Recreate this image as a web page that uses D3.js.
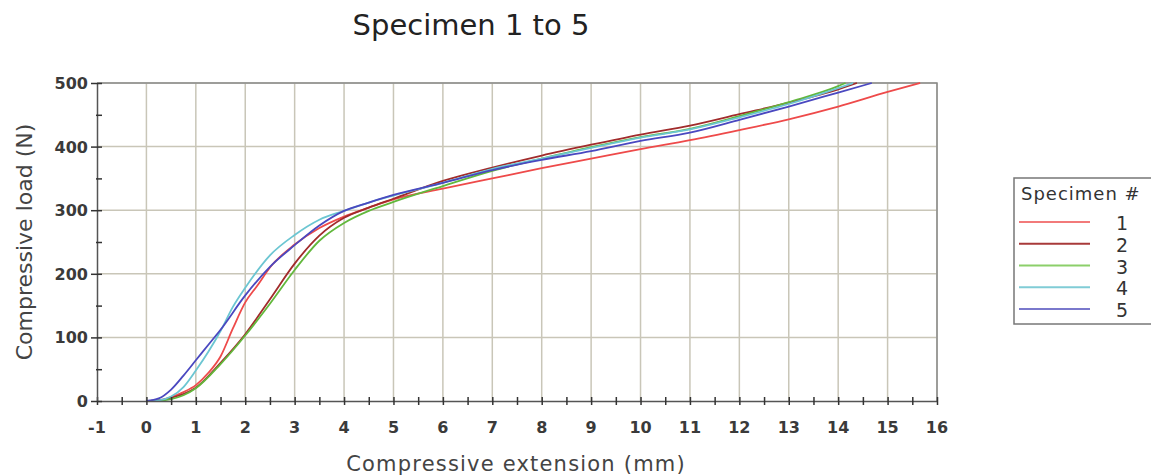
<!DOCTYPE html>
<html>
<head>
<meta charset="utf-8">
<script src="https://cdn.jsdelivr.net/npm/d3@7"></script>
<style>
  body { margin: 0; background: #fff; }
  svg { display: block; font-family: "DejaVu Sans", Verdana, sans-serif; }
</style>
</head>
<body>
<svg id="chart" width="1151" height="475"></svg>
<script>
// extension (mm) and load (N), one pair per specimen
const ext1 = [0, 0.25, 0.5, 0.75, 1, 1.25, 1.5, 1.75, 2, 2.25, 2.5, 3, 3.5, 4, 4.5, 5, 6, 7, 8, 9, 10, 11, 12, 13, 14, 15, 15.66];
const load1 = [0, 1, 6, 14, 25, 44, 70, 114, 155, 182, 210, 246, 272, 290, 304, 317, 334, 350, 366, 381, 396, 410, 426, 443, 463, 486, 500];

const ext2 = [0, 0.25, 0.5, 0.75, 1, 1.5, 2, 2.5, 3, 3.5, 4, 4.5, 5, 6, 7, 8, 9, 10, 11, 12, 13, 14, 14.38];
const load2 = [0, 1, 5, 11, 21, 60, 105, 160, 216, 260, 288, 304, 318, 346, 367, 386, 403, 419, 433, 451, 469, 490, 500];

const ext3 = [0, 0.25, 0.5, 0.75, 1, 1.5, 2, 2.5, 3, 3.5, 4, 4.5, 5, 6, 7, 8, 9, 10, 11, 12, 13, 14, 14.15];
const load3 = [0, 0.5, 3, 9, 20, 58, 103, 153, 206, 252, 280, 299, 313, 338, 362, 381, 399, 415, 428, 448, 470, 495, 500];

const ext4 = [0, 0.25, 0.5, 0.75, 1, 1.25, 1.5, 1.75, 2, 2.5, 3, 3.5, 4, 4.5, 5, 6, 7, 8, 9, 10, 11, 12, 13, 14, 14.3];
const load4 = [0, 1, 7, 22, 48, 77, 110, 148, 178, 229, 261, 285, 299, 312, 323, 343, 365, 381, 398, 414, 427, 446, 467, 492, 500];

const ext5 = [0, 0.25, 0.5, 0.75, 1, 1.25, 1.5, 2, 2.5, 3, 3.5, 4, 4.5, 5, 6, 7, 8, 9, 10, 11, 12, 13, 14, 14.68];
const load5 = [0, 4, 18, 40, 64, 88, 112, 166, 211, 245, 276, 299, 312, 324, 343, 363, 379, 393, 409, 422, 442, 463, 485, 500];

const specimens = ["1", "2", "3", "4", "5"];
const colors = ["#ee4a4a", "#a12b2b", "#62b83c", "#6cc6d2", "#4a48c0"];
const legendColors = ["#f27a7a", "#a83a3a", "#8ccf6a", "#80ccd6", "#7a78cc"];
const xTicks = d3.range(-1, 17);
const yTicks = [0, 100, 200, 300, 400, 500];

const series = [
  [ext1, load1], [ext2, load2], [ext3, load3], [ext4, load4], [ext5, load5]
].map(([e, l], i) => ({ name: specimens[i], color: colors[i], pts: e.map((v, j) => [v, l[j]]) }));

const svg = d3.select("#chart");
const plotLeft = 97, plotRight = 937, plotTop = 83, plotBottom = 401;

const x = d3.scaleLinear().domain([-1, 16]).range([plotLeft, plotRight]);
const y = d3.scaleLinear().domain([0, 500]).range([plotBottom, plotTop]);

// grid
const grid = svg.append("g").attr("stroke", "#c9c6b8").attr("stroke-width", 1.5);
grid.selectAll(".vx").data(xTicks.slice(1)).join("line")
  .attr("x1", (d) => x(d)).attr("x2", (d) => x(d))
  .attr("y1", plotTop).attr("y2", plotBottom);
grid.selectAll(".hy").data(yTicks.slice(1)).join("line")
  .attr("x1", plotLeft).attr("x2", plotRight)
  .attr("y1", (d) => y(d)).attr("y2", (d) => y(d));

// frame top / right
svg.append("path")
  .attr("d", `M${plotLeft},${plotTop}H${plotRight}V${plotBottom}`)
  .attr("fill", "none").attr("stroke", "#8a8a8a").attr("stroke-width", 1.5);

// curves
const line = d3.line()
  .x((d) => x(d[0]))
  .y((d) => y(d[1]))
  .curve(d3.curveMonotoneX);

svg.append("g").selectAll("path").data(series).join("path")
  .attr("d", (d) => line(d.pts))
  .attr("fill", "none")
  .attr("stroke", (d) => d.color)
  .attr("stroke-width", 1.8);

// x axis
const xAxis = svg.append("g").attr("transform", `translate(0,${plotBottom})`)
  .call(d3.axisBottom(x).tickValues(d3.range(-1, 16.01, 0.5)).tickSize(0).tickFormat(""));
xAxis.select(".domain").attr("stroke", "#555").attr("stroke-width", 1.5);
xAxis.selectAll(".tick").append("line")
  .attr("y1", -4).attr("y2", 4).attr("stroke", "#333").attr("stroke-width", 1.5);
svg.append("g").selectAll("text").data(xTicks).join("text")
  .attr("x", (d) => x(d)).attr("y", 433)
  .attr("text-anchor", "middle")
  .attr("font-size", 16).attr("font-weight", "bold").attr("fill", "#3a3a3a")
  .text((d) => d);

// y axis
const yAxis = svg.append("g").attr("transform", `translate(${plotLeft},0)`)
  .call(d3.axisLeft(y).tickValues(d3.range(0, 501, 50)).tickSize(0).tickFormat(""));
yAxis.select(".domain").attr("stroke", "#555").attr("stroke-width", 1.5);
yAxis.selectAll(".tick").append("line")
  .attr("x1", (d) => (d % 100 === 0 ? -6 : -1)).attr("x2", 5)
  .attr("stroke", "#333").attr("stroke-width", 1.5);
svg.append("g").selectAll("text").data(yTicks).join("text")
  .attr("x", 88).attr("y", (d) => y(d) + 6)
  .attr("text-anchor", "end")
  .attr("font-size", 16).attr("font-weight", "bold").attr("fill", "#3a3a3a")
  .text((d) => d);

// titles
svg.append("text").attr("x", 471).attr("y", 35).attr("text-anchor", "middle")
  .attr("font-size", 29).attr("fill", "#222").text("Specimen 1 to 5");
svg.append("text").attr("x", 516).attr("y", 471).attr("text-anchor", "middle")
  .attr("font-size", 21).attr("fill", "#444").attr("letter-spacing", 1.2)
  .text("Compressive extension (mm)");
svg.append("text").attr("transform", "translate(32,242) rotate(-90)")
  .attr("text-anchor", "middle")
  .attr("font-size", 22).attr("fill", "#444")
  .text("Compressive load (N)");

// legend
const lg = svg.append("g");
lg.append("rect").attr("x", 1014).attr("y", 178).attr("width", 150).attr("height", 146)
  .attr("fill", "#fff").attr("stroke", "#777").attr("stroke-width", 1.5);
lg.append("text").attr("x", 1021).attr("y", 200)
  .attr("font-size", 18).attr("fill", "#333").attr("letter-spacing", 1).text("Specimen #");
const rowY = d3.scaleLinear().domain([0, 4]).range([222, 309]);
specimens.forEach((s, i) => {
  lg.append("line").attr("x1", 1019).attr("x2", 1090)
    .attr("y1", rowY(i)).attr("y2", rowY(i))
    .attr("stroke", legendColors[i]).attr("stroke-width", 1.8);
  lg.append("text").attr("x", 1122).attr("y", rowY(i) + 8)
    .attr("text-anchor", "middle")
    .attr("font-size", 19).attr("fill", "#333").text(s);
});
</script>
</body>
</html>
